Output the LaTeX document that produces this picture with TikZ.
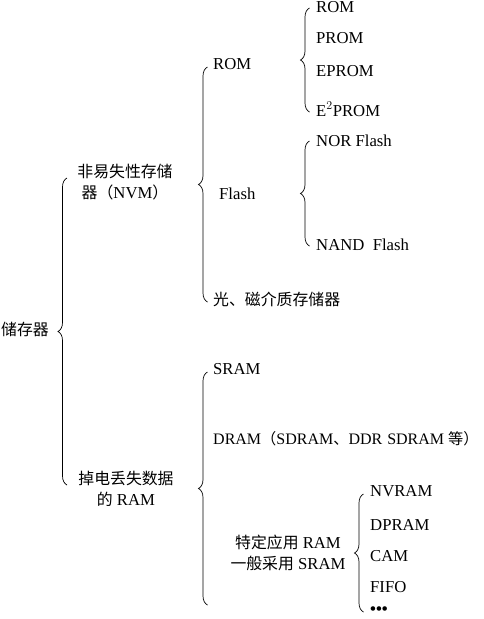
\documentclass[tikz,border=0pt]{standalone}
\usepackage{fontspec}
\setmainfont{Liberation Serif}
\newfontfamily\cjk{Noto Sans CJK SC}[Scale=0.95]
\newcommand{\zh}[1]{{\cjk #1}}
\usetikzlibrary{decorations.pathreplacing}

\tikzset{
  leaf/.style={anchor=west, inner sep=0pt, text height=11pt, text depth=3pt, font=\fontsize{16.7}{20}\selectfont},
  group/.style={align=center, inner sep=0pt, font=\fontsize{16.7}{21}\selectfont},
  curly/.style={decorate, decoration={brace, amplitude=9pt}, line width=0.7pt},
}

\begin{document}
\begin{tikzpicture}[x=1pt, y=-1pt]
    \useasboundingbox (0,0) rectangle (484,619);

    % Raiz
    \node[leaf] (mem) at (1,331) {\zh{储存器}};
    \draw[curly] (67,485) -- (67,178);

    % Ramos principais
    \node[group] (nvm) at (125,182) {\zh{非易失性存储}\\\zh{器（}NVM\zh{）}};
    \node[group] (ram) at (126,489) {\zh{掉电丢失数据}\\\zh{的} RAM};

    % Nao volatil
    \draw[curly] (207.5,302) -- (207.5,67);
    \node[leaf] (rom) at (213,65) {ROM};
    \node[leaf] (flash) at (219,195) {Flash};
    \node[leaf] (optic) at (213,301) {\zh{光、磁介质存储器}};

    % Tipos de ROM
    \draw[curly] (309.5,112) -- (309.5,8);
    \node[leaf] (rom1) at (316,8) {ROM};
    \node[leaf] (rom2) at (316,39) {PROM};
    \node[leaf] (rom3) at (316,72) {EPROM};
    \node[leaf] (rom4) at (316,112) {E$^2$PROM};

    % Tipos de Flash
    \draw[curly] (309.5,246) -- (309.5,141);
    \node[leaf] (nor) at (316,142) {NOR Flash};
    \node[leaf] (nand) at (316,246) {NAND\ \ Flash};

    % Volatil
    \draw[curly] (207.5,605) -- (207.5,372);
    \node[leaf] (sram) at (213,370) {SRAM};
    \node[leaf, font=\fontsize{16}{20}\selectfont] (dram) at (213,440) {DRAM\zh{（}SDRAM\zh{、}DDR\hspace{5pt}SDRAM \zh{等）}};
    \node[group] (spec) at (288,553) {\zh{特定应用} RAM\\\zh{一般采用} SRAM};

    % RAM especificas
    \draw[curly] (363.5,612) -- (363.5,494);
    \node[leaf] (nvram) at (370,492) {NVRAM};
    \node[leaf] (dpram) at (370,526) {DPRAM};
    \node[leaf] (cam) at (370,557) {CAM};
    \node[leaf] (fifo) at (370,588) {FIFO};
    \node[leaf] (more) at (370,610) {\bfseries\textbullet\textbullet\textbullet};
\end{tikzpicture}
\end{document}
